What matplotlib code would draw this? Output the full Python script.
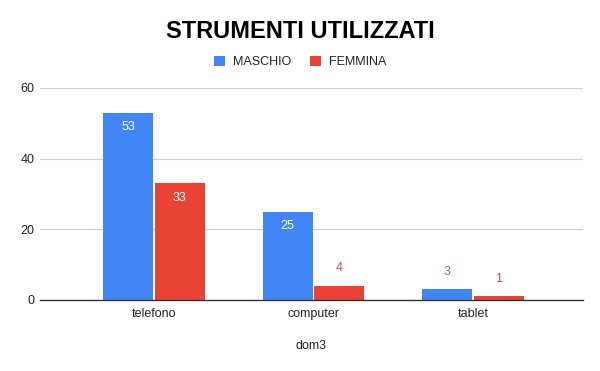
import numpy as np
import matplotlib
matplotlib.use("Agg")
import matplotlib.pyplot as plt
from matplotlib.patches import Patch

categorie = ["telefono", "computer", "tablet"]
maschio = [53, 25, 3]
femmina = [33, 4, 1]
serie = ["MASCHIO", "FEMMINA"]
y_ticks = [0, 20, 40, 60]

blu = "#4285F4"
rosso = "#EA4335"

plt.rcParams['font.family'] = ['Liberation Sans', 'DejaVu Sans']

fig = plt.figure(figsize=(6, 3.71), dpi=100)
ax = fig.add_axes([40 / 600, 1 - 300 / 371, 543 / 600, 212 / 371])

x = np.arange(len(categorie))
w = 0.313
gap = 0.006
b1 = ax.bar(x - w / 2 - gap, maschio, w, color=blu)
b2 = ax.bar(x + w / 2 + gap, femmina, w, color=rosso)

# etichette: dentro la barra se alta, sopra se bassa
for bars, vals, col in [(b1, maschio, blu), (b2, femmina, rosso)]:
    for r, v in zip(bars, vals):
        cx = r.get_x() + r.get_width() / 2
        if v >= 10:
            ax.text(cx, v - 2.3, str(v), ha='center', va='top', color='white', fontsize=9)
        else:
            ax.text(cx, v + 3.3, str(v), ha='center', va='bottom', color=col, fontsize=9)

ax.set_xlim(-0.715, 2.69)
ax.set_ylim(0, 60)
ax.set_yticks(y_ticks)
ax.set_xticks(x)
ax.set_xticklabels(categorie)
ax.tick_params(length=0, labelsize=9, colors='#222222')
ax.tick_params(axis='y', pad=4)
ax.tick_params(axis='x', pad=6)
ax.grid(axis='y', color='#cccccc', linewidth=0.8)
ax.set_axisbelow(True)
for s in ['top', 'right', 'left']:
    ax.spines[s].set_visible(False)
ax.spines['bottom'].set_color('#333333')
ax.spines['bottom'].set_linewidth(1)

ax.set_xlabel("dom3", fontsize=9, color='#222222', labelpad=14)

fig.text(0.5, 1 - 32 / 371, "STRUMENTI UTILIZZATI", ha='center', va='center',
         fontsize=17, fontweight='heavy', color='black')

handles = [Patch(facecolor=blu), Patch(facecolor=rosso)]
fig.legend(handles, serie, loc='center', bbox_to_anchor=(0.5, 1 - 62 / 371), ncol=2,
           frameon=False, fontsize=9, handlelength=0.9, handleheight=0.9,
           handletextpad=0.6, columnspacing=1.5, labelcolor='#222222')

fig.savefig("out.png", dpi=100)
